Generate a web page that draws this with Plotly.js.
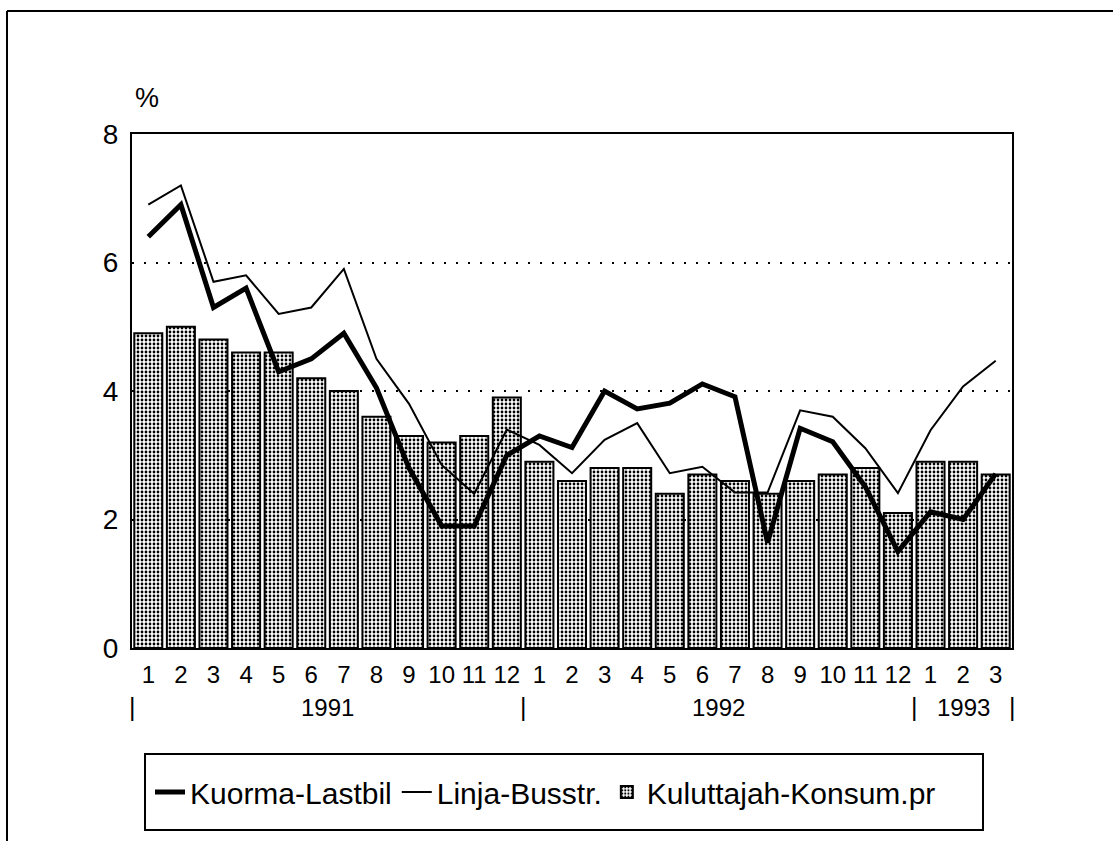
<!DOCTYPE html>
<html>
<head>
<meta charset="utf-8">
<script src="https://cdn.plot.ly/plotly-3.0.1.min.js"></script>
<style>
  html, body { margin: 0; padding: 0; background: #fff; overflow: hidden; }
  #chart { width: 1113px; height: 841px; }
</style>
</head>
<body>
<div id="chart"></div>
<script>
// ---- data ----
const periods = ["1991-1","1991-2","1991-3","1991-4","1991-5","1991-6","1991-7","1991-8","1991-9","1991-10","1991-11","1991-12",
                 "1992-1","1992-2","1992-3","1992-4","1992-5","1992-6","1992-7","1992-8","1992-9","1992-10","1992-11","1992-12",
                 "1993-1","1993-2","1993-3"];
const monthLabels = ["1","2","3","4","5","6","7","8","9","10","11","12",
                     "1","2","3","4","5","6","7","8","9","10","11","12",
                     "1","2","3"];
const kuluttajah = [4.9, 5.0, 4.8, 4.6, 4.6, 4.2, 4.0, 3.6, 3.3, 3.2, 3.3, 3.9,
                    2.9, 2.6, 2.8, 2.8, 2.4, 2.7, 2.6, 2.4, 2.6, 2.7, 2.8, 2.1,
                    2.9, 2.9, 2.7];
const kuorma = [6.4, 6.9, 5.3, 5.6, 4.3, 4.5, 4.9, 4.05, 2.8, 1.9, 1.9, 3.0,
                3.3, 3.12, 4.0, 3.72, 3.81, 4.11, 3.91, 1.64, 3.42, 3.21, 2.51, 1.5,
                2.12, 2.0, 2.71];
const linja = [6.9, 7.2, 5.7, 5.8, 5.2, 5.3, 5.9, 4.5, 3.8, 2.85, 2.4, 3.4,
               3.16, 2.72, 3.24, 3.5, 2.72, 2.82, 2.42, 2.42, 3.7, 3.6, 3.11, 2.41,
               3.39, 4.07, 4.47];
const yearLabels = ["1991", "1992", "1993"];
const yearStart = [0, 12, 24];   // index of first month of each year
const yearLen = [12, 12, 3];
const yTicks = [0, 2, 4, 6, 8];
const seriesNames = ["Kuorma-Lastbil", "Linja-Busstr.", "Kuluttajah-Konsum.pr"];

const FONT = "Arial, 'Liberation Sans', Helvetica, sans-serif";

// layout geometry (pixels)
const W = 1113, H = 841;
const ML = 132, MR = 101, MT = 134, MB = 193;
const PW = W - ML - MR, PH = H - MT - MB;
const px = v => (v - ML) / PW;          // pixel x -> paper x
const py = v => (H - MB - v) / PH;      // pixel y -> paper y

const traces = [
  {
    type: "bar", x: periods, y: kuluttajah, name: seriesNames[2], legendrank: 3,
    marker: {
      color: "#ffffff",
      line: { color: "#000", width: 2 },
      pattern: { shape: ".", fgcolor: "#000", bgcolor: "#fff", size: 4, solidity: 0.38 }
    },
    hoverinfo: "skip"
  },
  {
    type: "scatter", mode: "lines", x: periods, y: kuorma, name: seriesNames[0], legendrank: 1,
    line: { color: "#000", width: 5 }, hoverinfo: "skip"
  },
  {
    type: "scatter", mode: "lines", x: periods, y: linja, name: seriesNames[1], legendrank: 2,
    line: { color: "#000", width: 2 }, hoverinfo: "skip"
  }
];

const annotations = [];
annotations.push({ xref: "paper", yref: "paper", x: px(147), y: py(98), text: "%", showarrow: false,
  xanchor: "center", yanchor: "middle", font: { family: FONT, size: 27, color: "#000" } });
for (let i = 0; i < yearLabels.length; i++) {
  annotations.push({ xref: "x", yref: "paper", x: yearStart[i] + (yearLen[i] - 1) / 2, y: py(707),
    text: yearLabels[i], showarrow: false, xanchor: "center", yanchor: "middle",
    font: { family: FONT, size: 24, color: "#000" } });
}
const seps = yearStart.map(s => s - 0.5).concat([periods.length - 0.5]);
seps.forEach(s => {
  annotations.push({ xref: "x", yref: "paper", x: s, y: py(707), text: "|", showarrow: false,
    xanchor: "center", yanchor: "middle", font: { family: FONT, size: 25, color: "#000" } });
});

const shapes = [
  // outer frame: top and left edges only
  { type: "line", xref: "paper", yref: "paper", x0: px(7), x1: px(1113), y0: py(11), y1: py(11),
    line: { color: "#000", width: 2 } },
  { type: "line", xref: "paper", yref: "paper", x0: px(7), x1: px(7), y0: py(11), y1: py(841),
    line: { color: "#000", width: 2 } },
  // legend box
  { type: "rect", xref: "paper", yref: "paper", x0: px(145), x1: px(983), y0: py(754), y1: py(830),
    line: { color: "#000", width: 2 }, fillcolor: "rgba(0,0,0,0)" }
];

const layout = {
  width: W, height: H,
  margin: { l: ML, r: MR, t: MT, b: MB, pad: 0 },
  paper_bgcolor: "#fff", plot_bgcolor: "#fff",
  showlegend: true,
  bargap: 0.14,
  font: { family: FONT, color: "#000" },
  xaxis: {
    type: "category",
    range: [-0.5, periods.length - 0.5],
    tickmode: "array", tickvals: periods, ticktext: monthLabels,
    tickfont: { family: FONT, size: 24, color: "#000" },
    ticks: "", showgrid: false, zeroline: false,
    showline: true, linecolor: "#000", linewidth: 2, mirror: true,
    ticklabelstandoff: 4, fixedrange: true
  },
  yaxis: {
    range: [0, 8],
    tickmode: "array", tickvals: yTicks,
    tickfont: { family: FONT, size: 28, color: "#000" },
    ticks: "", showgrid: true, gridcolor: "#000", gridwidth: 2, griddash: "2px,10px",
    zeroline: false,
    showline: true, linecolor: "#000", linewidth: 2, mirror: true,
    ticklabelstandoff: 6, fixedrange: true
  },
  legend: {
    orientation: "h", xref: "paper", yref: "paper",
    x: px(150), y: py(792), xanchor: "left", yanchor: "middle",
    borderwidth: 0, bgcolor: "rgba(0,0,0,0)",
    font: { family: FONT, size: 30, color: "#000" },
    itemwidth: 30, traceorder: "normal"
  },
  shapes: shapes,
  annotations: annotations
};

Plotly.newPlot("chart", traces, layout, { displayModeBar: false, staticPlot: true });
</script>
</body>
</html>
